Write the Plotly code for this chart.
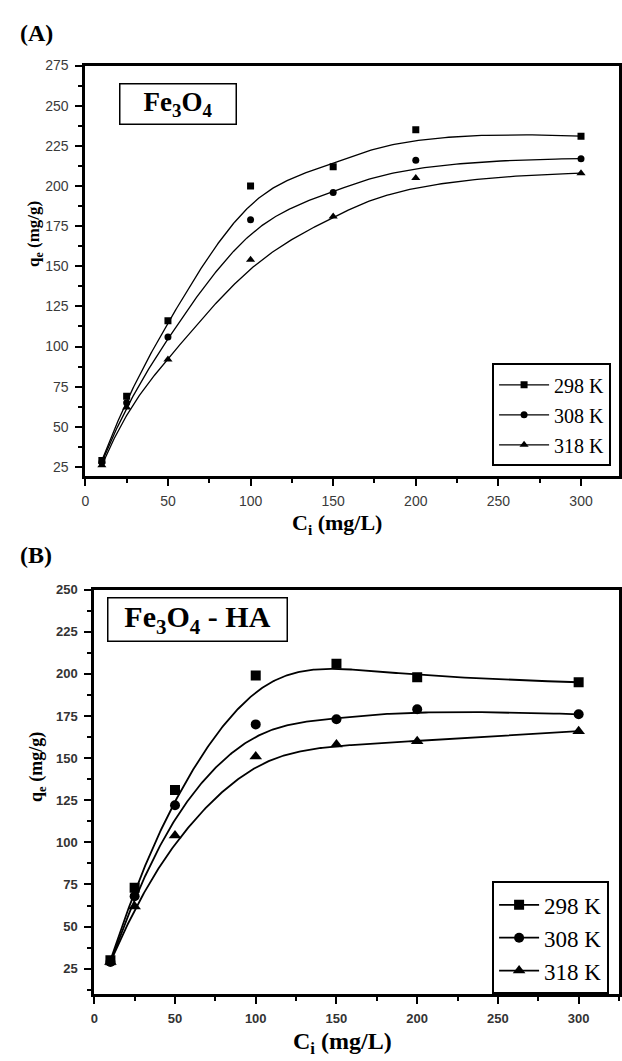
import numpy as np
import plotly.graph_objects as go

# Initial concentration (mg/L)
C_i = [10, 25, 50, 100, 150, 200, 300]

# Adsorption capacity qe (mg/g) on Fe3O4
fe3o4_298 = [29, 69, 116, 200, 212, 235, 231]
fe3o4_308 = [28, 65, 106, 179, 196, 216, 217]
fe3o4_318 = [26, 62, 92, 154, 181, 205, 208]

# Adsorption capacity qe (mg/g) on Fe3O4 - HA
feha_298 = [30, 73, 131, 199, 206, 198, 195]
feha_308 = [29, 68, 122, 170, 173, 179, 176]
feha_318 = [29, 62, 104, 151, 158, 160, 166]

temps = ["298 K", "308 K", "318 K"]
symbols = ["square", "circle", "triangle-up"]

W, H = 622, 1061
SERIF = "Liberation Serif"
SANS = "Liberation Sans"


def bspline(xs, ys, n=300, k=3):
    """Clamped uniform cubic B-spline using the points as control points."""
    P = np.column_stack([xs, ys]).astype(float)
    m = len(P)
    U = np.concatenate([np.zeros(k), np.linspace(0, 1, m - k + 1), np.ones(k)])
    t = np.linspace(0, 1, n)
    N = np.zeros((len(U) - 1, n))
    for i in range(len(U) - 1):
        N[i] = (t >= U[i]) & (t < U[i + 1])
    last = np.max(np.nonzero(U < 1)[0])
    N[last, t == 1] = 1
    for p in range(1, k + 1):
        Nn = np.zeros((len(U) - 1 - p, n))
        for i in range(len(U) - 1 - p):
            a = U[i + p] - U[i]
            b = U[i + p + 1] - U[i + 1]
            left = (t - U[i]) / a * N[i] if a > 0 else 0
            right = (U[i + p + 1] - t) / b * N[i + 1] if b > 0 else 0
            Nn[i] = left + right
        N = Nn
    C = N.T @ P
    return C[:, 0], C[:, 1]


def gapped(vals):
    out = []
    for v in vals:
        out += [v, None]
    return out[:-1]


fig = go.Figure()

panels = [
    dict(series=[fe3o4_298, fe3o4_308, fe3o4_318], xa="x", ya="y", legend="legend",
         sizes=[7, 7, 8], lw=1.3),
    dict(series=[feha_298, feha_308, feha_318], xa="x2", ya="y2", legend="legend2",
         sizes=[10, 10, 11], lw=1.8),
]

for p in panels:
    for j, (ys, name, sym, ms) in enumerate(zip(p["series"], temps, symbols, p["sizes"])):
        cx, cy = bspline(C_i, ys)
        fig.add_trace(go.Scatter(
            x=cx, y=cy, mode="lines", xaxis=p["xa"], yaxis=p["ya"],
            line=dict(color="black", width=p["lw"]), showlegend=False,
            hoverinfo="skip"))
        fig.add_trace(go.Scatter(
            x=gapped(C_i), y=gapped(ys), mode="lines+markers", name=name,
            xaxis=p["xa"], yaxis=p["ya"], legend=p["legend"], legendgroup=p["legend"] + name,
            connectgaps=False,
            line=dict(color="black", width=p["lw"]),
            marker=dict(symbol=sym, size=ms, color="black", line=dict(width=0))))

axis_common = dict(
    showline=True, linewidth=3, linecolor="black", mirror=True,
    ticks="outside", ticklen=7, tickwidth=2, tickcolor="black",
    showgrid=False, zeroline=False,
)

fig.update_layout(
    width=W, height=H, margin=dict(l=0, r=0, t=0, b=0),
    paper_bgcolor="white", plot_bgcolor="white",
    xaxis=dict(**axis_common, range=[0, 323], tick0=0, dtick=50,
               domain=[82 / W, 620 / W], anchor="y",
               minor=dict(ticks="outside", ticklen=4, tickwidth=2, tickcolor="black", dtick=25),
               tickfont=dict(family=SANS, size=14, color="#3a3a3a"), ticklabelstandoff=3),
    yaxis=dict(**axis_common, range=[19.4, 275], tick0=0, dtick=25,
               domain=[1 - 471.5 / H, 1 - 58 / H], anchor="x",
               minor=dict(ticks="outside", ticklen=4, tickwidth=2, tickcolor="black", dtick=12.5),
               tickfont=dict(family=SANS, size=14, color="#3a3a3a"), ticklabelstandoff=4),
    xaxis2=dict(**axis_common, range=[0, 325], tick0=0, dtick=50,
                domain=[91 / W, 620 / W], anchor="y2",
                minor=dict(ticks="outside", ticklen=4, tickwidth=2, tickcolor="black", dtick=25),
                tickfont=dict(family=SANS, size=13, color="#333333", weight="bold"),
                ticklabelstandoff=3),
    yaxis2=dict(**axis_common, range=[10, 250], tick0=0, dtick=25,
                domain=[1 - 993.5 / H, 1 - 586 / H], anchor="x2",
                minor=dict(ticks="outside", ticklen=4, tickwidth=2, tickcolor="black", dtick=12.5),
                tickfont=dict(family=SANS, size=13, color="#333333", weight="bold"),
                ticklabelstandoff=4),
    legend=dict(x=612 / W, y=1 - 358 / H, xanchor="right", yanchor="top",
                bordercolor="black", borderwidth=2, bgcolor="white",
                font=dict(family=SERIF, size=20, color="black"),
                itemwidth=50, tracegroupgap=1, traceorder="grouped"),
    legend2=dict(x=610 / W, y=1 - 880 / H, xanchor="right", yanchor="top",
                 bordercolor="black", borderwidth=2, bgcolor="white",
                 font=dict(family=SERIF, size=23, color="black"),
                 itemwidth=40, tracegroupgap=0, traceorder="grouped"),
)

ann = []
# panel letters
ann.append(dict(text="<b>(A)</b>", x=14 / W, y=1 - 25 / H, xanchor="left", yanchor="middle",
                font=dict(family=SERIF, size=24, color="black")))
ann.append(dict(text="<b>(B)</b>", x=14 / W, y=1 - 551 / H, xanchor="left", yanchor="middle",
                font=dict(family=SERIF, size=24, color="black")))
# material labels in boxes
ann.append(dict(text="<b>Fe<sub>3</sub>O<sub>4</sub></b>", x=175 / W, y=1 - 97 / H,
                xanchor="center", yanchor="middle", width=113, height=37,
                bordercolor="black", borderwidth=1.5, borderpad=1, bgcolor="white",
                font=dict(family=SERIF, size=27, color="black")))
ann.append(dict(text="<b>Fe<sub>3</sub>O<sub>4</sub> - HA</b>", x=195.5 / W, y=1 - 616.5 / H,
                xanchor="center", yanchor="middle", width=176, height=40,
                bordercolor="black", borderwidth=1.5, borderpad=1, bgcolor="white",
                font=dict(family=SERIF, size=30, color="black")))
# axis titles
ann.append(dict(text="<b>q<sub>e</sub> (mg/g)</b>", x=32 / W, y=1 - 228 / H, textangle=-90,
                xanchor="center", yanchor="middle",
                font=dict(family=SERIF, size=17, color="black")))
ann.append(dict(text="<b>q<sub>e</sub> (mg/g)</b>", x=34 / W, y=1 - 765 / H, textangle=-90,
                xanchor="center", yanchor="middle",
                font=dict(family=SERIF, size=18, color="black")))
ann.append(dict(text="<b>C<sub>i</sub> (mg/L)</b>", x=336 / W, y=1 - 520 / H,
                xanchor="center", yanchor="middle",
                font=dict(family=SERIF, size=22, color="black")))
ann.append(dict(text="<b>C<sub>i</sub> (mg/L)</b>", x=341 / W, y=1 - 1043 / H,
                xanchor="center", yanchor="middle",
                font=dict(family=SERIF, size=24, color="black")))
for a in ann:
    a.update(xref="paper", yref="paper", showarrow=False)
fig.update_layout(annotations=ann)

fig.write_html("out.html")
